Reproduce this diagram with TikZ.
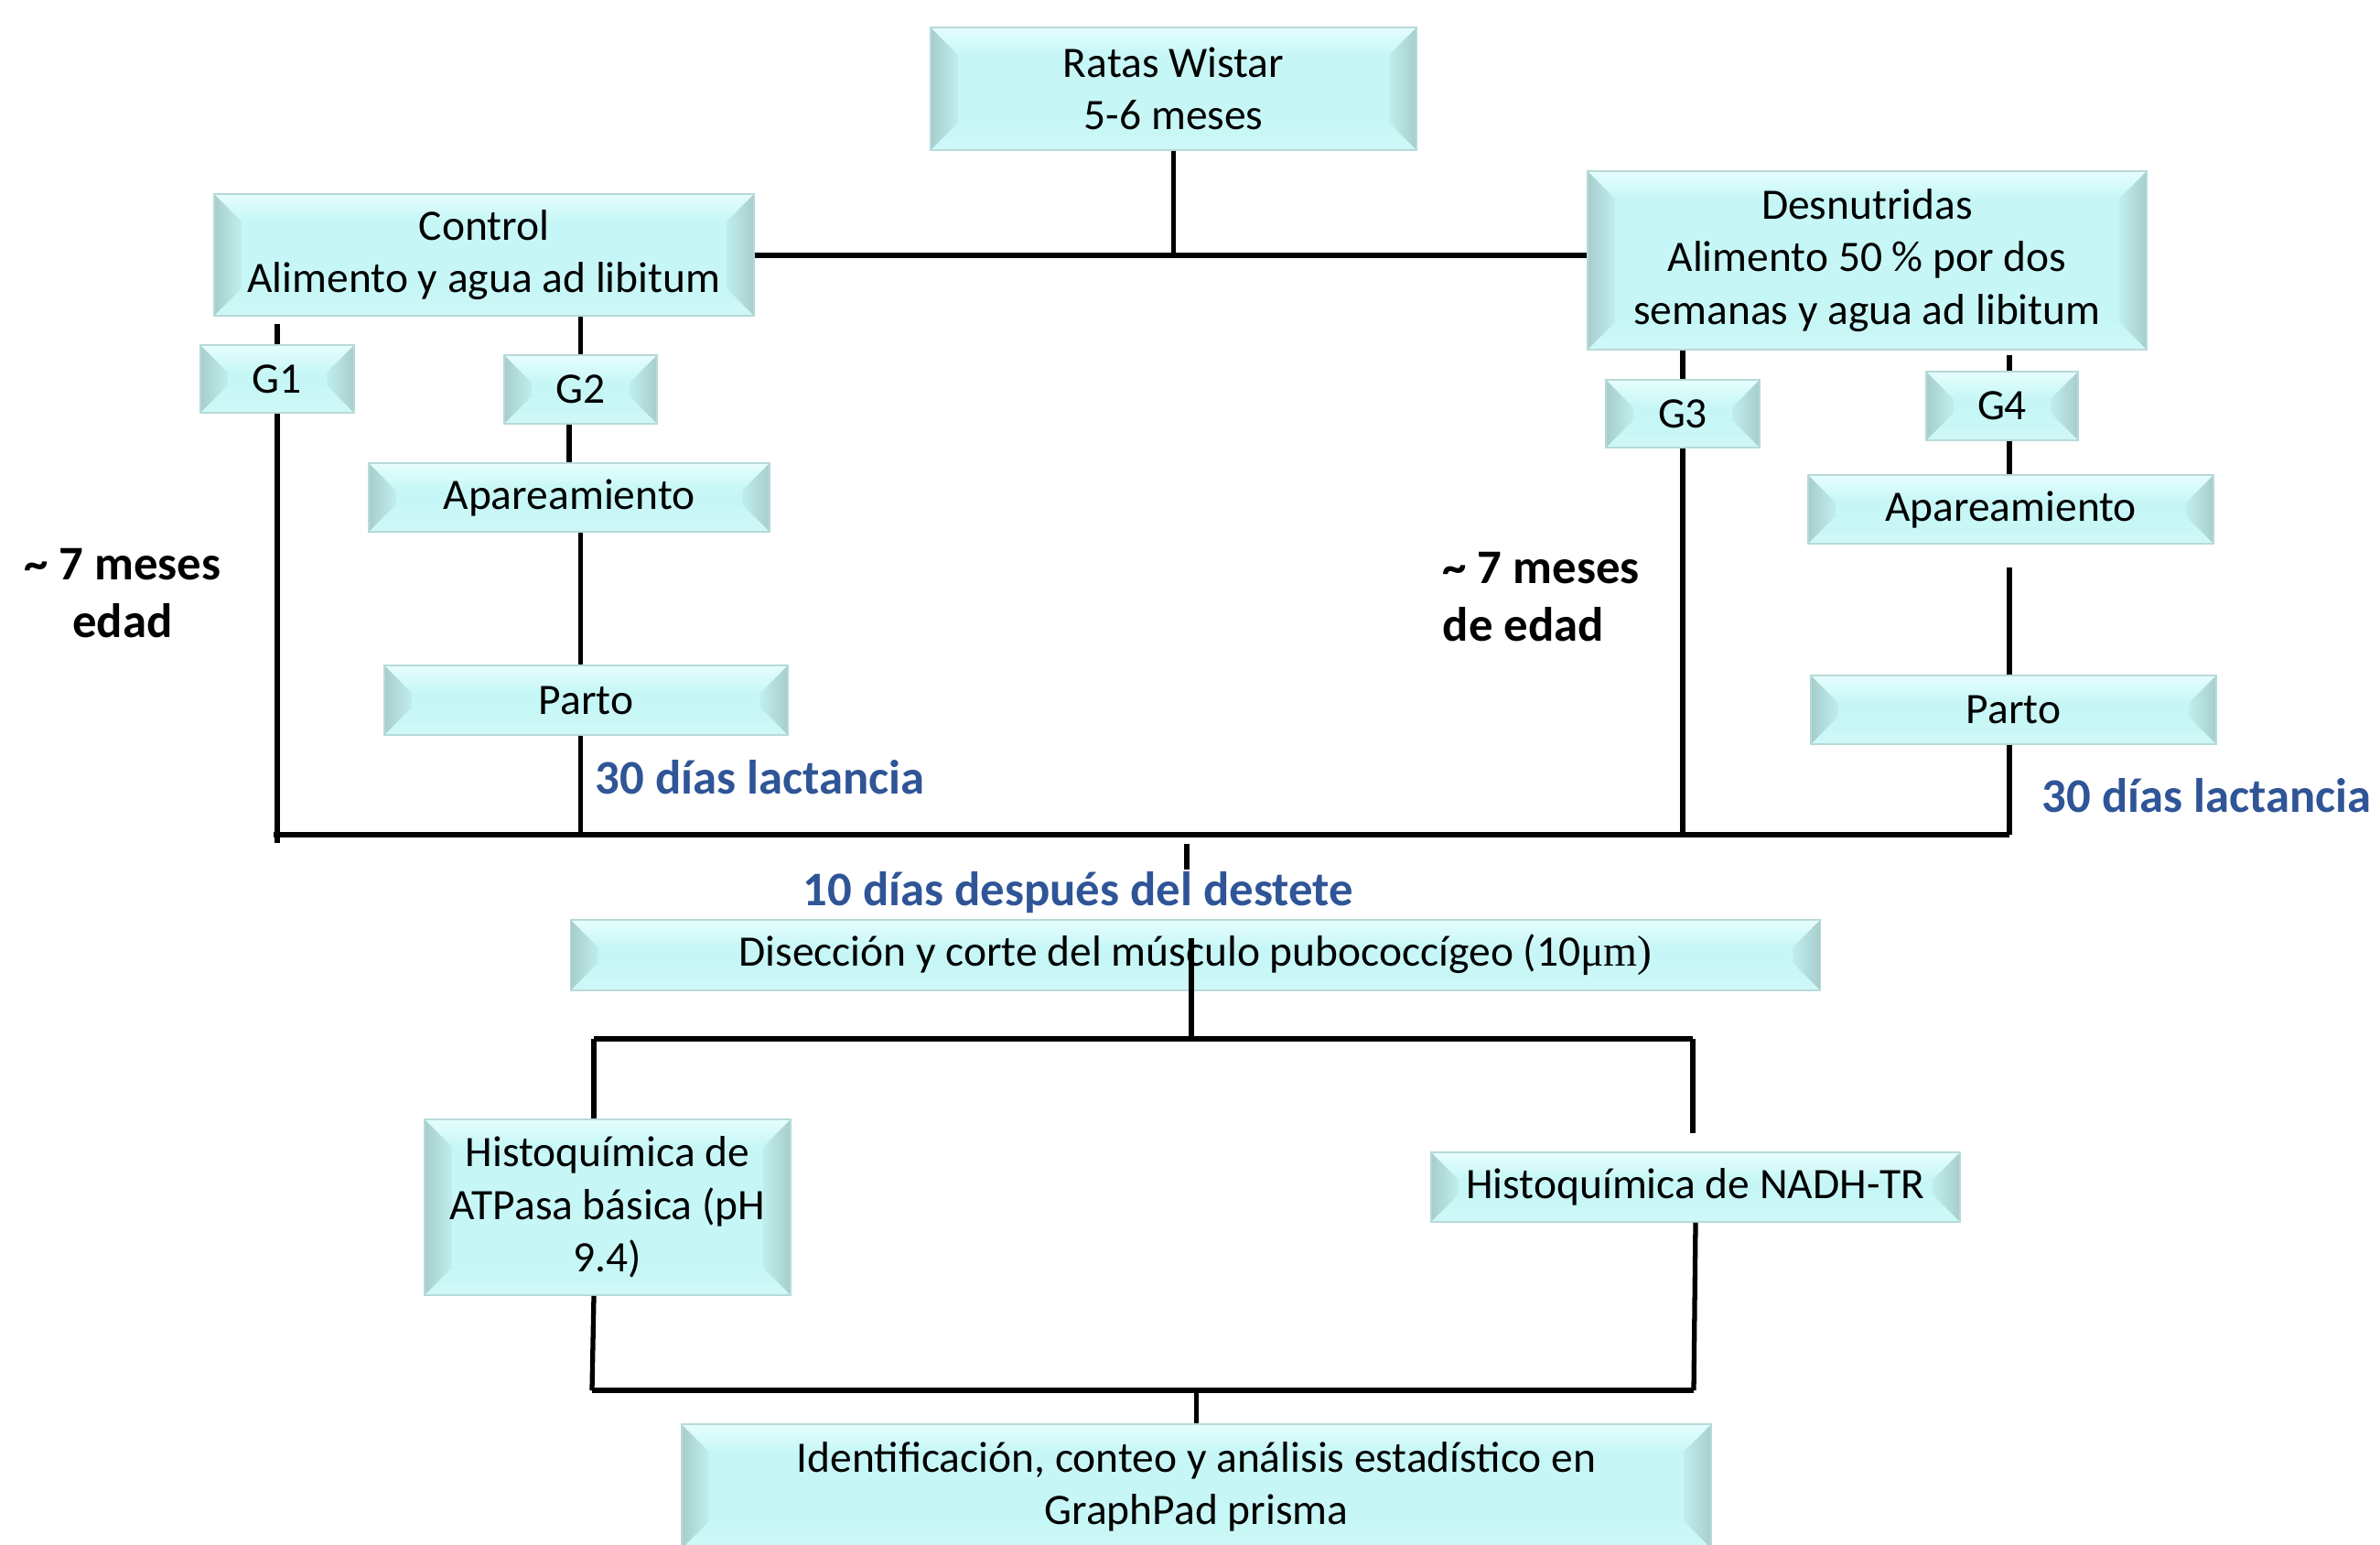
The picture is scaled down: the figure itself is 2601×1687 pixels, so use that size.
\documentclass[tikz,border=0pt]{standalone}
\usepackage{fontspec}
\setmainfont{Carlito}
\newfontfamily\lserif{Liberation Serif}
\definecolor{boxc}{HTML}{C6F7F6}
\definecolor{boxl}{HTML}{E6FDFD}
\definecolor{boxb}{HTML}{CFF8F7}
\definecolor{boxd}{HTML}{A6CDCC}
\definecolor{boxm}{HTML}{C0EEED}
\definecolor{boxe}{HTML}{B6DAD9}
\definecolor{labblue}{HTML}{2F5597}
\def\bvdepth{0.3cm}
\tikzset{
  bx/.style={inner sep=0pt, align=center, fill=boxc, draw=boxe, line width=0.5pt,
    font=\fontsize{13.5}{16.3}\selectfont,
    path picture={
      \coordinate (pnw) at (path picture bounding box.north west);
      \coordinate (pne) at (path picture bounding box.north east);
      \coordinate (psw) at (path picture bounding box.south west);
      \coordinate (pse) at (path picture bounding box.south east);
      \shade[top color=boxl, bottom color=boxc] (pnw) -- (pne) -- ([xshift=-\bvdepth,yshift=-\bvdepth]pne) -- ([xshift=\bvdepth,yshift=-\bvdepth]pnw) -- cycle;
      \shade[top color=boxc, bottom color=boxb] (psw) -- (pse) -- ([xshift=-\bvdepth,yshift=\bvdepth]pse) -- ([xshift=\bvdepth,yshift=\bvdepth]psw) -- cycle;
      \shade[left color=boxd, right color=boxm] (pnw) -- ([xshift=\bvdepth,yshift=-\bvdepth]pnw) -- ([xshift=\bvdepth,yshift=\bvdepth]psw) -- (psw) -- cycle;
      \shade[left color=boxm, right color=boxd] (pne) -- ([xshift=-\bvdepth,yshift=-\bvdepth]pne) -- ([xshift=-\bvdepth,yshift=\bvdepth]pse) -- (pse) -- cycle;
    }},
  ln/.style={line width=1.5pt, black},
  lnh/.style={line width=1.7pt, black},
  lab/.style={inner sep=0pt, font=\fontsize{15}{18}\selectfont\bfseries},
  bluelab/.style={lab, text=labblue, anchor=west},
}
\begin{document}
\begin{tikzpicture}[x=0.01cm,y=-0.01cm]
\clip (0,0) rectangle (2601,1687);
\fill[white] (0,0) rectangle (2601,1687);

% boxes
\node[bx, minimum width=5.31cm, minimum height=1.34cm] (ratas) at (1282.5,97) {Ratas Wistar\\5-6 meses};
\node[bx, minimum width=5.90cm, minimum height=1.33cm] (control) at (529,278.5) {Control\\Alimento y agua ad libitum};
\node[bx, minimum width=6.11cm, minimum height=1.95cm] (desn) at (2040.5,284.5) {Desnutridas\\Alimento 50 \% por dos\\semanas y agua ad libitum};
\node[bx, minimum width=1.68cm, minimum height=0.74cm] (g1) at (303,414) {G1};
\node[bx, minimum width=1.67cm, minimum height=0.75cm] (g2) at (634.5,425.5) {G2};
\node[bx, minimum width=4.38cm, minimum height=0.75cm] (apL) at (622,543.5) {Apareamiento};
\node[bx, minimum width=4.41cm, minimum height=0.76cm] (partoL) at (640.5,765) {Parto};
\node[bx, minimum width=1.68cm, minimum height=0.74cm] (g3) at (1839,452) {G3};
\node[bx, minimum width=1.66cm, minimum height=0.75cm] (g4) at (2188,443.5) {G4};
\node[bx, minimum width=4.43cm, minimum height=0.75cm] (apR) at (2197.5,556.5) {Apareamiento};
\node[bx, minimum width=4.43cm, minimum height=0.75cm] (partoR) at (2200.5,775.5) {Parto};
\node[bx, minimum width=13.65cm, minimum height=0.77cm] (disec) at (1306.5,1043.5) {Disección y corte del músculo pubococcígeo (10{\lserif μm)}};
\node[bx, minimum width=4.00cm, minimum height=1.92cm] (atp) at (664,1319) {Histoquímica de\\ATPasa básica (pH\\9.4)};
\node[bx, minimum width=5.78cm, minimum height=0.76cm] (nadh) at (1853,1297) {Histoquímica de NADH-TR};
\node[bx, minimum width=11.25cm, minimum height=1.36cm] (ident) at (1307.5,1624) {Identificación, conteo y análisis estadístico en\\GraphPad prisma};

% labels
\node[lab, align=center] (lab7a) at (134,648) {\textasciitilde\ 7 meses\\edad};
\node[lab, align=left, anchor=west] (lab7b) at (1576,652) {\textasciitilde\ 7 meses\\de edad};
\node[bluelab] (lacL) at (650,849) {30 días lactancia};
\node[bluelab] (lacR) at (2231,869) {30 días lactancia};
\node[lab, text=labblue] (dest) at (1178,975) {10 días después del destete};

% junction coordinates
\coordinate (bl) at (299,912);
\coordinate (br) at (2196,912);
\coordinate (g1end) at (303,921);
\coordinate (m1) at (1297,922);
\coordinate (m2) at (1297,950);
\coordinate (d1) at (1302,1025);
\coordinate (dj) at (1302,1135);
\coordinate (hl) at (649,1135);
\coordinate (hr) at (1850,1135);
\coordinate (hr2) at (1850,1238);
\coordinate (al) at (647,1519);
\coordinate (ar) at (1851,1519);

% top connectors
\draw[ln] (ratas.south) -- (ratas.south |- control.east);
\draw[lnh] (control.east) -- (desn.west |- control.east);
\draw[ln, shorten <=0.08cm] (g1.north |- control.south) -- (g1.north);
\draw[ln] (g2.north |- control.south) -- (g2.north);
\draw[ln] (g1.south) -- (g1end);
\draw[ln] (apL.north |- g2.south) -- (apL.north);
\draw[ln] (apL.south -| g2.south) -- (partoL.north -| g2.south);
\draw[ln] (partoL.south -| g2.south) -- (g2.south |- bl);
\draw[ln] (g3.north |- desn.south) -- (g3.north);
\draw[ln] (g3.south) -- (g3.south |- bl);
\draw[ln, shorten <=0.05cm] (desn.south -| br) -- (g4.north -| br);
\draw[ln] (g4.south -| br) -- (apR.north -| br);
\draw[ln, shorten <=0.25cm] (apR.south -| br) -- (partoR.north -| br);
\draw[ln] (partoR.south -| br) -- (br);
\draw[lnh] (bl) -- (br);
\draw[ln] (m1) -- (m2);

% lower connectors
\draw[ln] (d1) -- (dj);
\draw[lnh] (hl) -- (hr);
\draw[ln] (hl) -- (atp.north -| hl);
\draw[ln] (hr) -- (hr2);
\draw[ln] (atp.south -| hl) -- (al);
\draw[ln] (nadh.south) -- (ar);
\draw[lnh] (al) -- (ar);
\draw[ln] (ident.north |- al) -- (ident.north);
\end{tikzpicture}
\end{document}
